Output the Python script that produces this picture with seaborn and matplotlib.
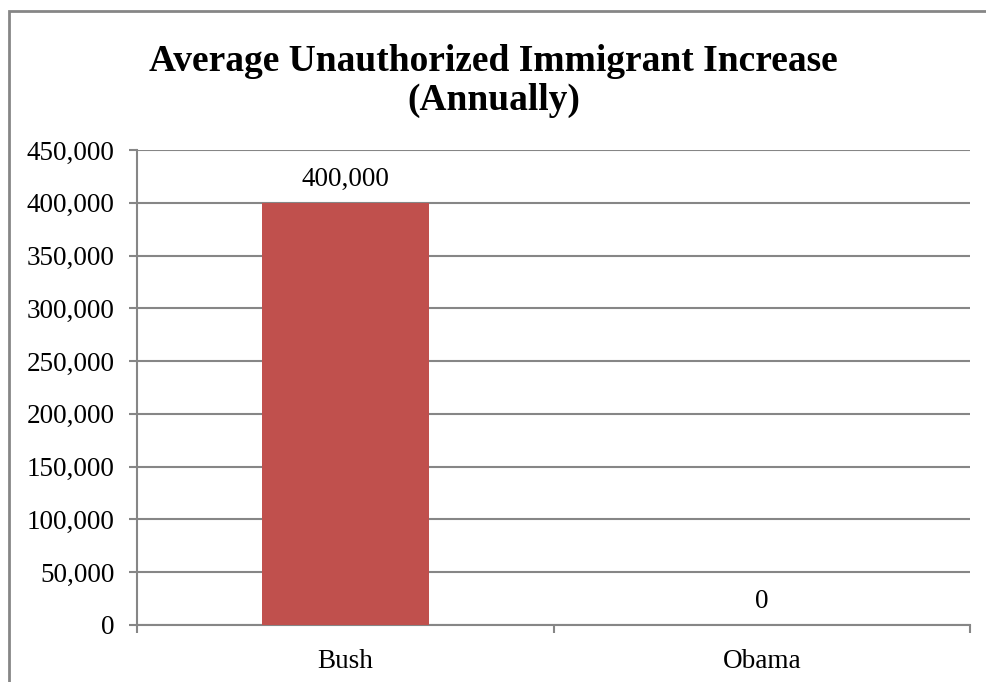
import numpy as np
import pandas as pd
import seaborn as sns
import matplotlib.pyplot as plt
from matplotlib.patches import Rectangle
from matplotlib.ticker import FuncFormatter, MultipleLocator

# data
presidents = ['Bush', 'Obama']
increase = [400000, 0]
bar_color = '#C0504D'

df = pd.DataFrame({'president': presidents, 'increase': increase})

sns.set_style('white')
plt.rcParams['font.family'] = ['Liberation Serif', 'DejaVu Serif']
plt.rcParams['text.color'] = 'black'
plt.rcParams['xtick.color'] = 'black'
plt.rcParams['ytick.color'] = 'black'

fig = plt.figure(figsize=(9.87, 6.82), dpi=100)
ax = fig.add_axes([137 / 987, 1 - 625 / 682, (970 - 137) / 987, (625 - 150) / 682])

sns.barplot(data=df, x='president', y='increase', color=bar_color,
            saturation=1, width=0.40, linewidth=0, ax=ax, zorder=3)

ax.set_xlim(-0.5, 1.5)
ax.set_ylim(0, 450000)
ax.yaxis.set_major_locator(MultipleLocator(50000))
ax.yaxis.set_major_formatter(FuncFormatter(lambda v, p: f'{int(v):,}'))
ax.grid(axis='y', color='#868686', linewidth=1.5, zorder=0)
ax.set_axisbelow(True)

for s in ['top', 'right']:
    ax.spines[s].set_visible(False)
for s in ['left', 'bottom']:
    ax.spines[s].set_color('#868686')
    ax.spines[s].set_linewidth(1.5)

# category ticks sit on boundaries like Excel
ax.set_xticks([-0.5, 0.5, 1.5], minor=False)
ax.set_xticklabels([])
ax.set_xticks([0, 1], minor=True)
ax.set_xticklabels(presidents, minor=True)
ax.tick_params(axis='x', which='major', direction='out', length=6, width=1.5, color='#868686', bottom=True)
ax.tick_params(axis='x', which='minor', length=0, labelsize=19.5, pad=17, labelcolor='black')
ax.tick_params(axis='y', direction='out', length=6, width=1.5, color='#868686', left=True,
               labelsize=19.5, pad=10, labelcolor='black')
ax.set_xlabel('')
ax.set_ylabel('')

for i, v in enumerate(increase):
    ax.text(i, v + 10000, f'{v:,}', ha='center', va='bottom', fontsize=19.5, color='black', zorder=4)

fig.text(0.5, 1 - 81 / 682, 'Average Unauthorized Immigrant Increase\n(Annually)',
         ha='center', va='center', fontsize=27, fontweight='bold', color='black', linespacing=1.15)

# chart border
fig.patches.append(Rectangle((9 / 987, -0.01), 1.0, 1 - 11 / 682 + 0.01, transform=fig.transFigure,
                             fill=False, edgecolor='#868686', linewidth=2))

fig.savefig('out.png', dpi=100)
